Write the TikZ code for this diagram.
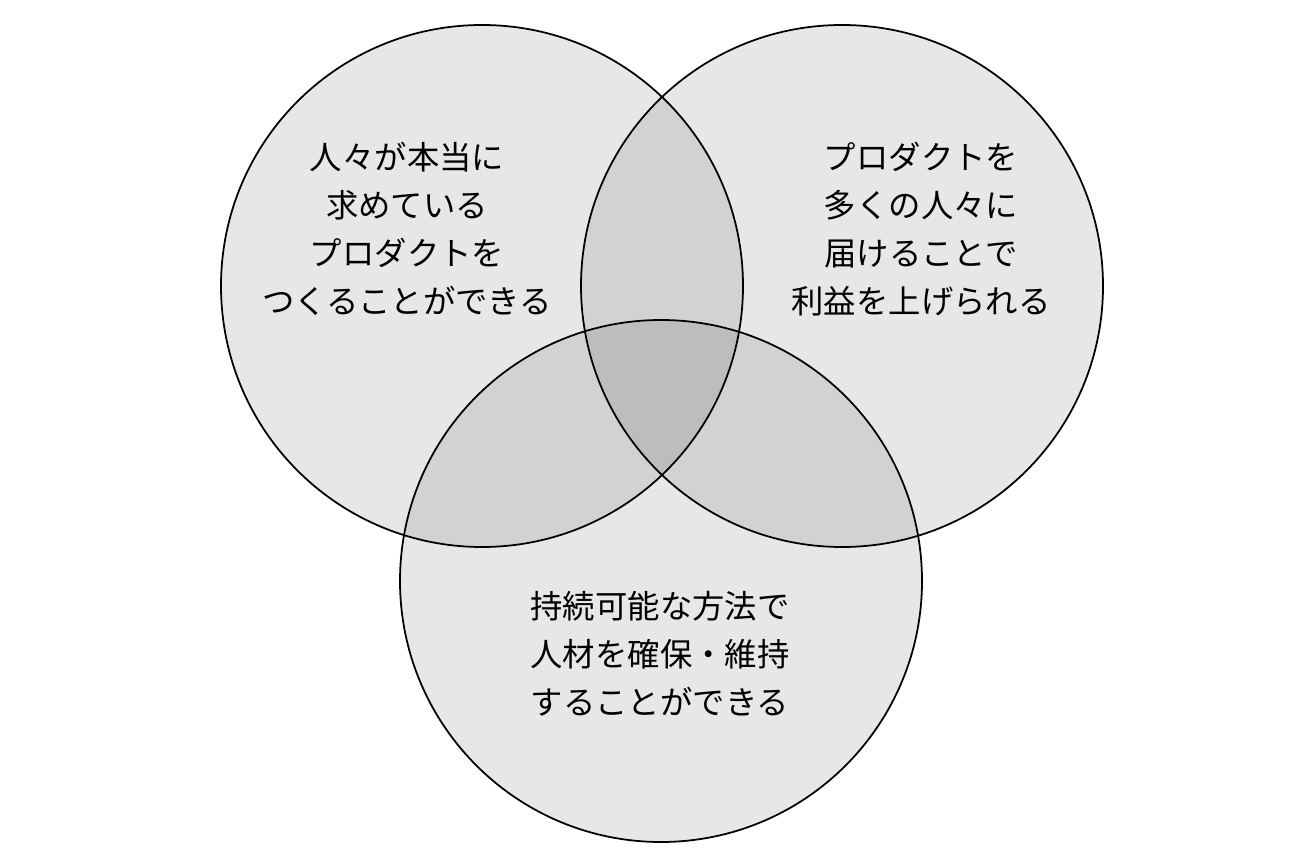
\documentclass[tikz,border=0pt]{standalone}
\usepackage{fontspec}
\newfontfamily\jpfont{Noto Sans CJK JP}
\definecolor{vnbase}{HTML}{E6E7E8}
\definecolor{vntwo}{HTML}{D1D2D4}
\definecolor{vnthree}{HTML}{BCBDBF}

\begin{document}
\begin{tikzpicture}[x=0.01cm,y=0.01cm,
    vntext/.style={align=center,text=black,
      font=\jpfont\fontsize{9.2pt}{13.7pt}\selectfont}]

  \useasboundingbox (0,0) rectangle (1300,866);

  % --- circle centres ---
  \coordinate (cl) at (482,580);
  \coordinate (cr) at (842,580);
  \coordinate (cb) at (661,285);
  \def\rad{261}

  % --- single regions ---
  \fill[vnbase] (cl) circle (\rad);
  \fill[vnbase] (cr) circle (\rad);
  \fill[vnbase] (cb) circle (\rad);

  % --- pairwise overlaps ---
  \begin{scope}
    \clip (cl) circle (\rad);
    \fill[vntwo] (cr) circle (\rad);
    \fill[vntwo] (cb) circle (\rad);
  \end{scope}
  \begin{scope}
    \clip (cr) circle (\rad);
    \fill[vntwo] (cb) circle (\rad);
  \end{scope}

  % --- triple overlap ---
  \begin{scope}
    \clip (cl) circle (\rad);
    \clip (cr) circle (\rad);
    \fill[vnthree] (cb) circle (\rad);
  \end{scope}

  % --- outlines ---
  \foreach \c in {cl,cr,cb}
    \draw[black,line width=0.5pt] (\c) circle (\rad);

  % labels
  \node[vntext] (need) at (407,637)
    {人々が本当に\\求めている\\プロダクトを\\つくることができる};
  \node[vntext] (reach) at (921,637)
    {プロダクトを\\多くの人々に\\届けることで\\利益を上げられる};
  \node[vntext] (team) at (660,212)
    {持続可能な方法で\\人材を確保・維持\\することができる};

\end{tikzpicture}
\end{document}
